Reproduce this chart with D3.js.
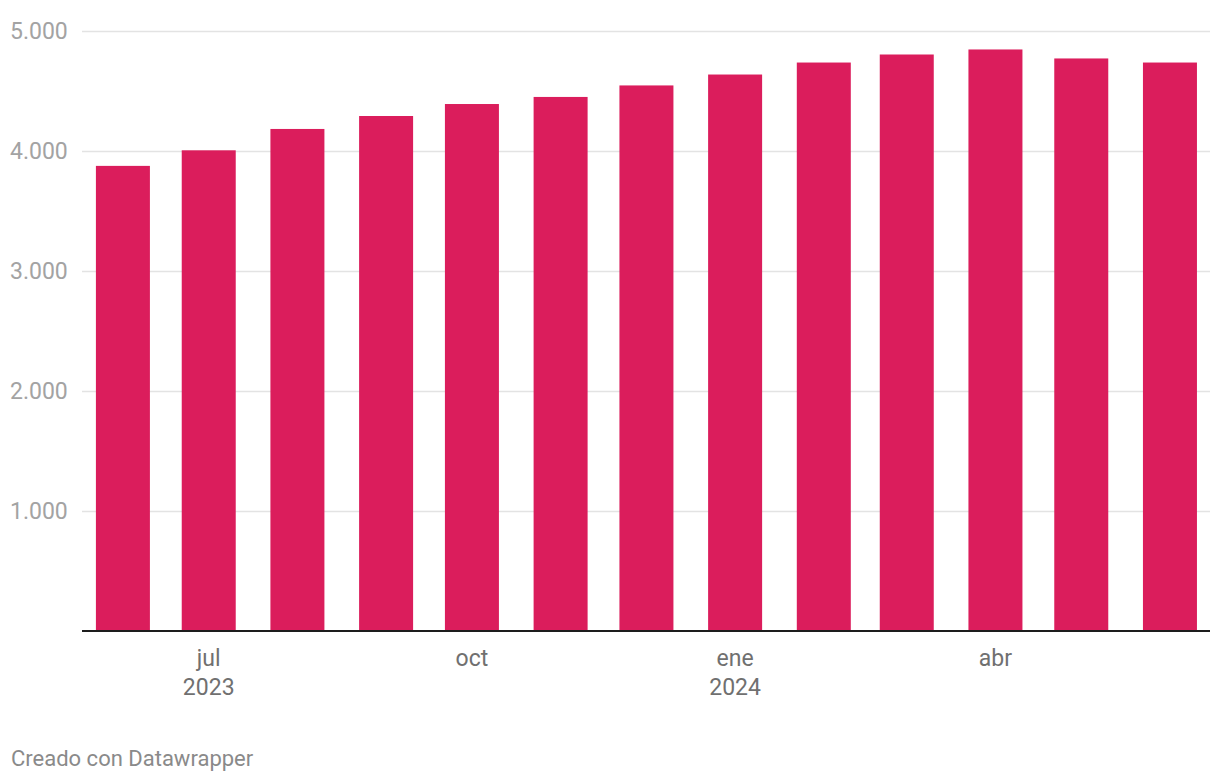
<!DOCTYPE html>
<html>
<head>
<meta charset="utf-8">
<script src="https://cdn.jsdelivr.net/npm/d3@7"></script>
<style>
  html, body { margin: 0; padding: 0; background: #fff; }
  svg { display: block; font-family: Roboto, "Noto Sans", sans-serif; }
</style>
</head>
<body>
<svg id="chart" width="1220" height="784"></svg>
<script>
// ---- data ----
const months = ["2023-06","2023-07","2023-08","2023-09","2023-10","2023-11","2023-12",
                "2024-01","2024-02","2024-03","2024-04","2024-05","2024-06"];
const values = [3875, 4005, 4183, 4291, 4391, 4450, 4546, 4637, 4737, 4804, 4846, 4771, 4737];
const yTicks = [1000, 2000, 3000, 4000, 5000];
const xTickMonths = ["2023-07","2023-10","2024-01","2024-04"];
const xTickLabels = [["jul","2023"],["oct"],["ene","2024"],["abr"]];
const footer = "Creado con Datawrapper";

// ---- layout ----
const svg = d3.select("#chart");
const parse = d3.timeParse("%Y-%m");
const dates = months.map(parse);
const DAY = 864e5;
const plotLeft = 82, plotRight = 1210, plotTop = 31, plotBottom = 630.5;
const x = d3.scaleTime()
  .domain([new Date(+dates[0] - 14.3 * DAY), new Date(+dates[dates.length-1] + 14 * DAY)])
  .range([plotLeft, plotRight]);
const y = d3.scaleLinear().domain([0, 5000]).range([plotBottom, plotTop]);
const barW = 54;

// gridlines
svg.append("g").selectAll("line").data(yTicks).join("line")
  .attr("x1", plotLeft).attr("x2", plotRight)
  .attr("y1", d => Math.round(y(d)) + 0.5).attr("y2", d => Math.round(y(d)) + 0.5)
  .attr("stroke", "#e3e3e3").attr("stroke-width", 1.5);

// y labels
const fmt = d3.format(",");
svg.append("g").selectAll("text").data(yTicks).join("text")
  .attr("x", 10).attr("y", d => y(d))
  .attr("dy", "0.35em")
  .attr("fill", "#a3a3a3").attr("font-size", 23)
  .text(d => fmt(d).replace(/,/g, "."));

// bars
svg.append("g").selectAll("rect").data(values).join("rect")
  .attr("x", (d, i) => x(dates[i]) - barW / 2)
  .attr("width", barW)
  .attr("y", d => y(d))
  .attr("height", d => y(0) - y(d))
  .attr("fill", "#db1d5c");

// baseline
svg.append("line")
  .attr("x1", plotLeft).attr("x2", plotRight)
  .attr("y1", y(0) + 0.5).attr("y2", y(0) + 0.5)
  .attr("stroke", "#1d1d1d").attr("stroke-width", 2);

// x labels
const xg = svg.append("g").selectAll("text").data(xTickMonths).join("text")
  .attr("text-anchor", "middle")
  .attr("fill", "#707070").attr("font-size", 23)
  .attr("transform", d => `translate(${x(parse(d))},666)`);
xg.each(function(d, i) {
  const t = d3.select(this);
  xTickLabels[i].forEach((s, j) => {
    t.append("tspan").attr("x", 0).attr("y", j * 29).text(s);
  });
});

// footer
svg.append("text")
  .attr("x", 11).attr("y", 766)
  .attr("fill", "#8a8a8a").attr("font-size", 22)
  .text(footer);
</script>
</body>
</html>
